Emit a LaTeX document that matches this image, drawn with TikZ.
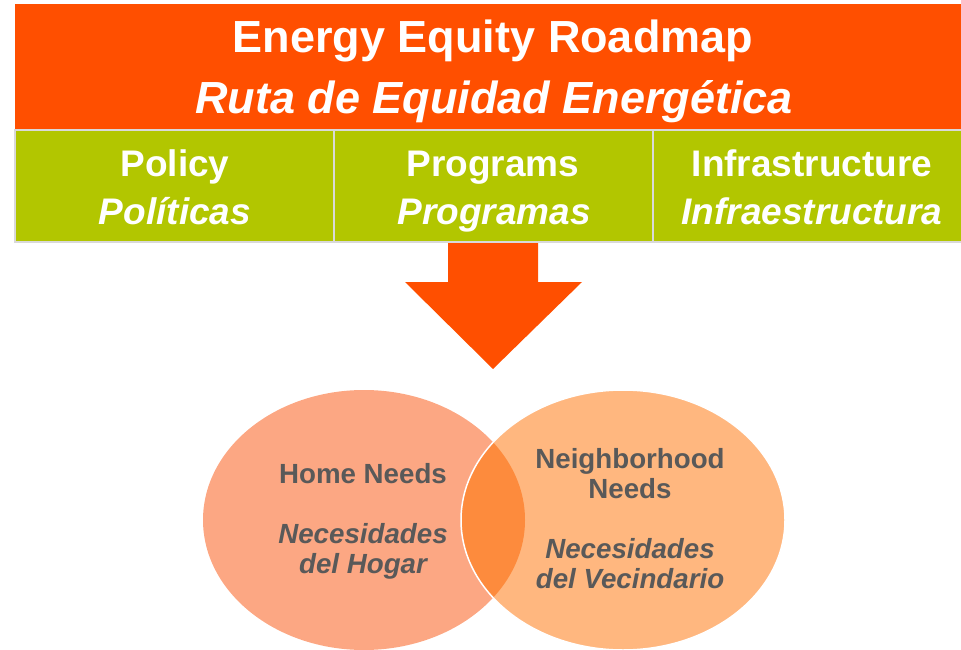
\documentclass[tikz,border=0pt]{standalone}
\usepackage{fontspec}
\setmainfont{Liberation Sans}
\definecolor{bannerorange}{HTML}{FF4F00}
\definecolor{cellgreen}{HTML}{B2C600}
\definecolor{cellborder}{HTML}{D9D9D9}
\definecolor{homefill}{HTML}{FCA783}
\definecolor{hoodfill}{HTML}{FFB77F}
\definecolor{overlapfill}{HTML}{FD8B3D}
\definecolor{textgray}{HTML}{595959}
\begin{document}
\begin{tikzpicture}[x=1pt,y=-1pt,
  titletext/.style={text=white,font=\fontsize{45}{52}\selectfont\bfseries,anchor=base,inner sep=0pt},
  celltext/.style={text=white,font=\fontsize{37}{42}\selectfont\bfseries,anchor=base,inner sep=0pt},
  celltextit/.style={celltext,font=\fontsize{37}{42}\selectfont\bfseries\itshape},
  cellbox/.style={fill=cellgreen,draw=cellborder,line width=1.5pt},
  venntext/.style={text=textgray,font=\fontsize{27.7}{32}\selectfont\bfseries,anchor=base,inner sep=0pt},
  venntextit/.style={venntext,font=\fontsize{27.7}{32}\selectfont\bfseries\itshape}]
\useasboundingbox (0,0) rectangle (961,650);
% banner
\fill[bannerorange] (15,4) rectangle (961,130);
\node[titletext] (t1) at (493,53) {Energy Equity Roadmap};
\node[titletext,font=\fontsize{45}{52}\selectfont\bfseries\itshape] (t2) at (494,114) {Ruta de Equidad Energética};
% cells
\draw[cellbox] (15,130) rectangle (334,242);
\draw[cellbox] (334,130) rectangle (653,242);
\draw[cellbox] (653,130) rectangle (962,242);
\node[celltext] (c1a) at (175,176) {Policy};
\node[celltextit] (c1b) at (175,224) {Políticas};
\node[celltext] (c2a) at (493,176) {Programs};
\node[celltextit] (c2b) at (494,224) {Programas};
\node[celltext] (c3a) at (812,176) {Infrastructure};
\node[celltextit] (c3b) at (812,224) {Infraestructura};
% arrow
\fill[bannerorange] (448,243) -- (538,243) -- (538,282) -- (582,282) -- (493,369) -- (405,282) -- (448,282) -- cycle;
% venn
\fill[homefill] (364,520) ellipse [x radius=161, y radius=130];
\fill[hoodfill] (623,520) ellipse [x radius=162, y radius=130];
\begin{scope}
  \clip (364,520) ellipse [x radius=161, y radius=130];
  \fill[overlapfill] (623,520) ellipse [x radius=162, y radius=130];
\end{scope}
\draw[white,line width=1.5pt] (623,520) ellipse [x radius=162, y radius=130];
\node[venntext] (h1) at (363,483) {Home Needs};
\node[venntextit] (h2) at (363,543) {Necesidades};
\node[venntextit] (h3) at (363,573) {del Hogar};
\node[venntext] (n1) at (630,468) {Neighborhood};
\node[venntext] (n2) at (630,498) {Needs};
\node[venntextit] (n3) at (630,558) {Necesidades};
\node[venntextit] (n4) at (630,588) {del Vecindario};
\end{tikzpicture}
\end{document}
